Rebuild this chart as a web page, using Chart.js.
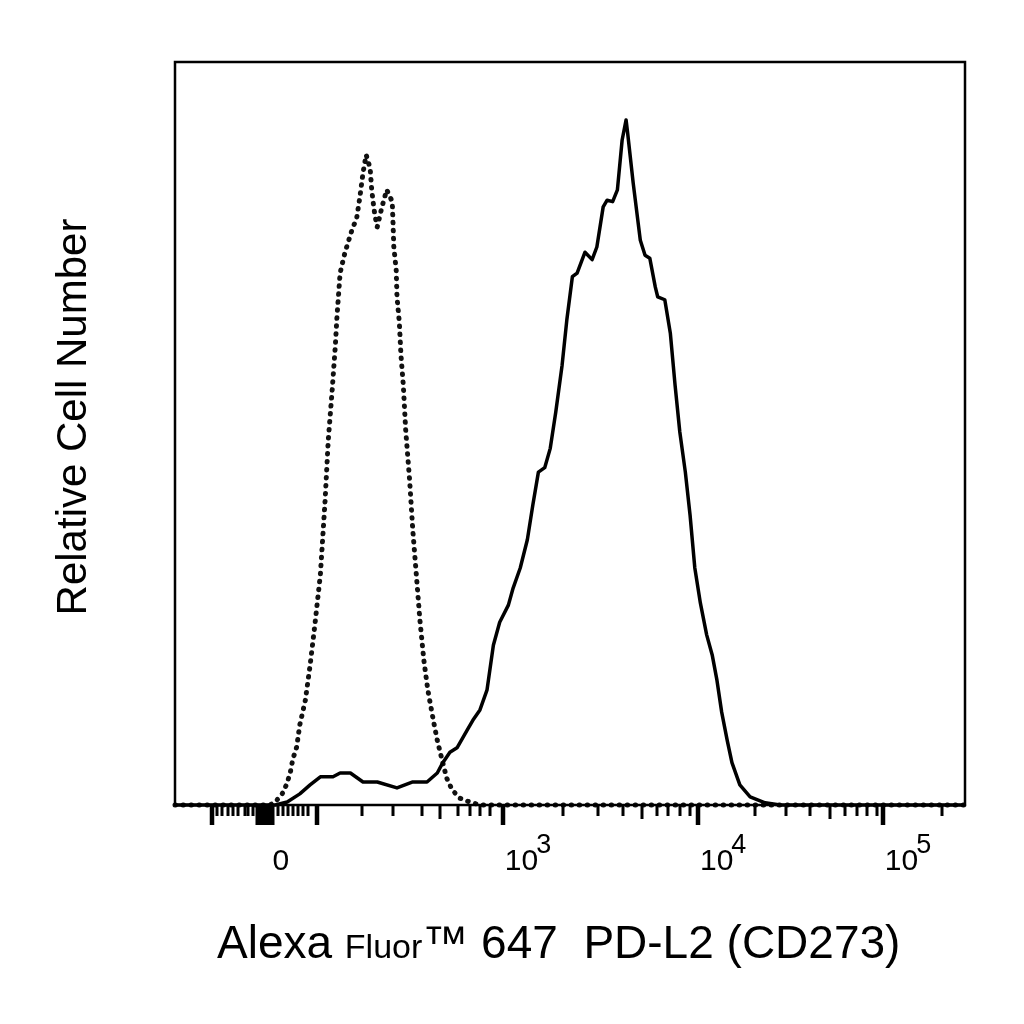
<!DOCTYPE html>
<html>
<head>
<meta charset="utf-8">
<script src="https://cdn.jsdelivr.net/npm/chart.js@4/dist/chart.umd.min.js"></script>
<style>
  body { margin: 0; background: #fff; }
  canvas { display: block; }
</style>
</head>
<body>
<canvas id="histo" width="1024" height="1024"></canvas>
<script>
// x values are display channels (0-1000 across the biexponential axis), y is relative count (0-100)
const stainedX = [0,127,142,158,171,184,200,209,222,238,256,281,301,319,332,339,348,357,370,377,386,395,403,411,422,428,437,446,453,460,468,475,482,490,496,503,509,519,528,534,542,547,554,560,566,571,573,580,589,595,601,608,611,620,627,633,639,646,652,658,665,673,680,686,692,699,705,715,728,747,766,1000];
const stainedY = [0,0,0.4,1.5,2.7,3.8,3.8,4.3,4.3,3.1,3.1,2.3,3.1,3.1,4.3,5.7,7.1,7.7,10.1,11.4,12.8,15.5,21.5,24.6,26.9,29.2,31.9,35.7,40.4,44.8,45.4,48.0,52.9,59.2,65.3,71.1,71.6,74.4,73.4,75.1,80.5,81.4,81.2,82.8,89.5,92.2,90.4,83.7,76.0,74.0,73.6,69.7,68.4,68.0,63.5,56.5,50.2,44.8,39.0,31.9,27.2,22.9,20.2,16.8,12.5,8.7,5.7,2.7,1.1,0.3,0,0];

const isotypeX = [0,120,127,137,142,146,149,154,158,165,171,177,184,190,194,199,203,205,209,215,224,230,234,238,242,247,249,251,253,256,262,268,275,276,277,280,281,284,286,289,292,297,301,306,310,315,320,327,332,338,344,351,361,373,386,1000];
const isotypeY = [0,0,0.4,1.7,3.0,4.4,6.1,7.8,10.8,14.1,18.8,24.2,31.0,41.0,49.1,55.9,61.9,65.7,71.6,74.3,77.4,79.0,81.8,85.1,87.5,85.7,82.8,81.0,79.4,77.8,80.5,82.8,81.2,78.3,75.1,72.0,68.4,64.9,60.6,56.5,50.5,43.7,37.0,30.3,24.9,19.5,15.5,11.4,8.7,6.1,3.6,2.0,0.9,0.4,0,0];

// axis ticks, in display channels
const majorTicks = [47,180,415,662,896];
const denseTicks = [104,106,109,111,114,116,119,122,124];
const mediumTicks = [335,591,829];
const minorTicks = [53,59,67,73,80,89,92,99,130,137,143,149,156,162,168,237,276,313,358,373,386,399,491,535,567,610,624,639,652,734,773,804,848,863,876,889,971];
const tickLabelPos = [134,415,662,896];
const tickLabelText = ['0','10|3','10|4','10|5'];

const yTitle = 'Relative Cell Number';
const xTitleParts = [['Alexa ', 46], ['Fluor', 34], ['\u2122', 46], [' 647  PD-L2 (CD273)', 46]];

const FONT = 'Arial, "Liberation Sans", sans-serif';

const axesPlugin = {
  id: 'flowAxes',
  afterDraw(chart) {
    const ctx = chart.ctx;
    const a = chart.chartArea;
    const xs = chart.scales.x;
    ctx.save();

    // frame
    ctx.strokeStyle = '#000';
    ctx.lineWidth = 2.5;
    ctx.strokeRect(a.left, a.top, a.right - a.left, a.bottom - a.top);

    function tick(v, len, w) {
      const px = Math.round(xs.getPixelForValue(v));
      ctx.fillRect(px - w / 2, a.bottom, w, len);
    }
    ctx.fillStyle = '#000';
    majorTicks.forEach(v => tick(v, 20, 4.5));
    denseTicks.forEach(v => tick(v, 20, 3));
    mediumTicks.forEach(v => tick(v, 14, 3));
    minorTicks.forEach(v => tick(v, 11, 3));

    // tick labels
    ctx.textBaseline = 'alphabetic';
    tickLabelPos.forEach((v, i) => {
      const px = xs.getPixelForValue(v);
      const parts = tickLabelText[i].split('|');
      if (parts.length === 1) {
        ctx.font = '30px ' + FONT;
        ctx.textAlign = 'center';
        ctx.fillText(parts[0], px, 870);
      } else {
        ctx.font = '30px ' + FONT;
        ctx.textAlign = 'left';
        const x0 = px + 2;
        ctx.fillText(parts[0], x0, 870);
        const w = ctx.measureText(parts[0]).width;
        ctx.font = '27px ' + FONT;
        ctx.fillText(parts[1], x0 + w - 2, 853);
      }
    });

    // x title
    let x = 217;
    ctx.textAlign = 'left';
    xTitleParts.forEach(([txt, size]) => {
      ctx.font = size + 'px ' + FONT;
      ctx.fillText(txt, x, 958);
      x += ctx.measureText(txt).width;
    });

    // y title
    ctx.translate(86, 417);
    ctx.rotate(-Math.PI / 2);
    ctx.font = '42px ' + FONT;
    ctx.textAlign = 'center';
    ctx.fillText(yTitle, 0, 0);

    ctx.restore();
  }
};

const toPoints = (xs, ys) => xs.map((v, i) => ({ x: v, y: ys[i] }));

new Chart(document.getElementById('histo'), {
  type: 'line',
  data: {
    datasets: [
      {
        label: 'PD-L2',
        data: toPoints(stainedX, stainedY),
        borderColor: '#000',
        borderWidth: 3.5,
        borderJoinStyle: 'round',
        pointRadius: 0,
        tension: 0,
        clip: 6
      },
      {
        label: 'Isotype',
        data: toPoints(isotypeX, isotypeY),
        borderColor: '#111',
        borderWidth: 5,
        borderDash: [0.5, 7.5],
        borderCapStyle: 'round',
        pointRadius: 0,
        tension: 0,
        clip: 6
      }
    ]
  },
  options: {
    responsive: false,
    animation: false,
    layout: { padding: { left: 175, top: 62, right: 59, bottom: 219 } },
    plugins: { legend: { display: false }, tooltip: { enabled: false } },
    scales: {
      x: { type: 'linear', min: 0, max: 1000, display: false },
      y: { min: 0, max: 100, display: false }
    }
  },
  plugins: [axesPlugin]
});
</script>
</body>
</html>
